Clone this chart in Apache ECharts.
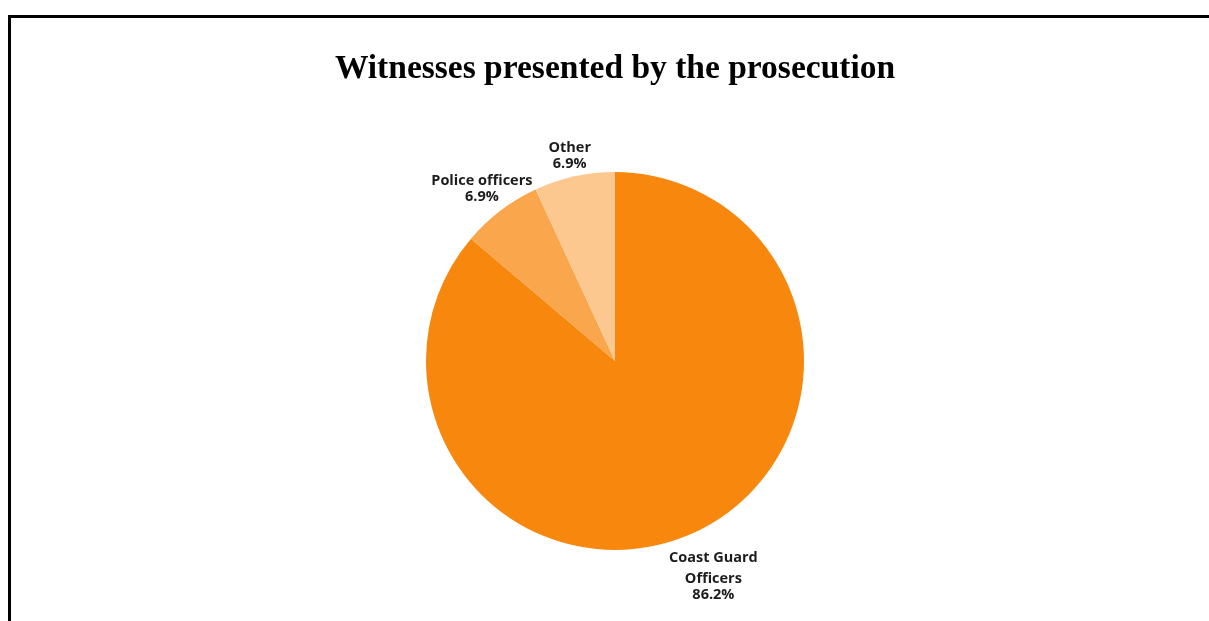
<!DOCTYPE html>
<html>
<head>
<meta charset="utf-8">
<script src="https://cdn.jsdelivr.net/npm/echarts@6/dist/echarts.min.js"></script>
<style>
html,body{margin:0;padding:0;background:#fff;}
#chart{width:1209px;height:621px;}
</style>
</head>
<body>
<div id="chart"></div>
<script>
var titleText = 'Witnesses presented by the prosecution';
var categories = ['Coast Guard Officers', 'Police officers', 'Other'];
var values = [25, 2, 2];
var colors = ['#F8870E', '#F9A64C', '#FDC88F'];

var chart = echarts.init(document.getElementById('chart'));

var total = values.reduce(function (a, b) { return a + b; }, 0);
function pct(v) { return (v / total * 100).toFixed(1) + '%'; }

var pieData = categories.map(function (c, i) {
  return { name: c, value: values[i], itemStyle: { color: colors[i] } };
});

var labelPad = [[26, 0, 0, 12], [6, 0, 0, 0], [20, 0, 0, 4]];
var labelData = categories.map(function (c, i) {
  return {
    name: c, value: values[i],
    label: { padding: labelPad[i] }
  };
});

var FS = 14.5;
var option = {
  backgroundColor: '#ffffff',
  animation: false,
  title: {
    text: titleText,
    left: 610,
    textAlign: 'center',
    top: 47,
    textStyle: {
      fontFamily: 'Liberation Serif',
      fontWeight: 'bold',
      fontSize: 33.5,
      color: '#000'
    }
  },
  graphic: [
    { type: 'rect', shape: { x: 8, y: 15, width: 1201, height: 3 }, style: { fill: '#000' }, silent: true },
    { type: 'rect', shape: { x: 8, y: 15, width: 3, height: 606 }, style: { fill: '#000' }, silent: true }
  ],
  series: [
    {
      type: 'pie',
      center: [615, 361],
      radius: [0, 189],
      startAngle: 90,
      clockwise: true,
      label: { show: false },
      labelLine: { show: false },
      emphasis: { disabled: true },
      silent: true,
      data: pieData
    },
    {
      type: 'pie',
      center: [615, 361],
      radius: [198, 236],
      startAngle: 90,
      clockwise: true,
      silent: true,
      emphasis: { disabled: true },
      itemStyle: { color: 'rgba(0,0,0,0)' },
      labelLine: { show: false },
      label: {
        show: true,
        position: 'inside',
        color: '#1c1c1c',
        fontFamily: 'Open Sans',
        fontWeight: 'bold',
        fontSize: FS,
        lineHeight: 16,
        formatter: function (p) {
          if (p.name === 'Coast Guard Officers') {
            return '{t|Coast Guard}\n{n|Officers}\n{n|' + pct(p.value) + '}';
          }
          return '{n|' + p.name + '}\n{n|' + pct(p.value) + '}';
        },
        rich: {
          t: { fontFamily: 'Open Sans', fontWeight: 'bold', fontSize: FS, color: '#1c1c1c', lineHeight: 26, align: 'center' },
          n: { fontFamily: 'Open Sans', fontWeight: 'bold', fontSize: FS, color: '#1c1c1c', lineHeight: 16, align: 'center' }
        }
      },
      data: labelData
    }
  ]
};
chart.setOption(option);
</script>
</body>
</html>
